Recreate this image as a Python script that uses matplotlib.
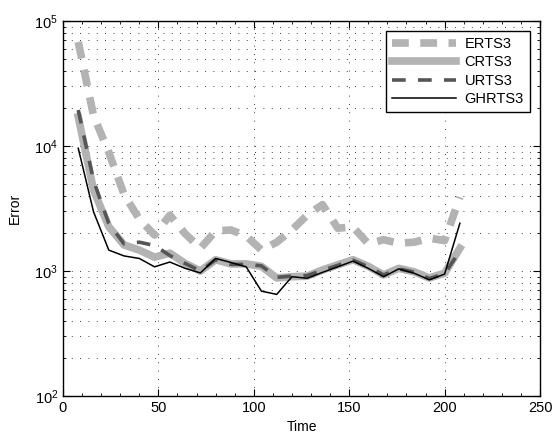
import matplotlib
matplotlib.use("Agg")
from matplotlib import pyplot as plt
from matplotlib.ticker import MultipleLocator, LogLocator
import numpy as np

plt.rcParams['font.family'] = ['Liberation Sans', 'DejaVu Sans']
plt.rcParams['mathtext.fontset'] = 'custom'
plt.rcParams['mathtext.rm'] = 'Liberation Sans'

# data
time = [8, 16, 24, 32, 40, 48, 56, 64, 72, 80, 88, 96, 104,
        112, 120, 128, 136, 144, 152, 160, 168, 176, 184, 192, 200, 208]

erts3 = [68000, 17500, 8900, 4100, 2600, 1940, 2800, 1990, 1520, 2090, 2130, 1910, 1470,
         1700, 2130, 2800, 3400, 2200, 2250, 1650, 1780, 1670, 1700, 1830, 1750, 3900]
crts3 = [17100, 4450, 2260, 1615, 1470, 1290, 1390, 1150, 1000, 1230, 1140, 1140, 1090,
         880, 900, 910, 1020, 1120, 1230, 1090, 930, 1050, 985, 880, 960, 1520]
urts3 = [19400, 5300, 2400, 1650, 1700, 1600, 1330, 1150, 1000, 1230, 1130, 1130, 1100,
         890, 910, 920, 1010, 1110, 1220, 1080, 930, 1040, 980, 870, 950, 1450]
ghrts3 = [9600, 2980, 1470, 1320, 1260, 1080, 1180, 1050, 965, 1260, 1170, 1080, 690,
          650, 900, 875, 975, 1080, 1200, 1050, 900, 1040, 960, 850, 945, 2410]

light = '#b3b3b3'
dark = '#555555'

fig = plt.figure(figsize=(5.55, 4.38), dpi=100)
ax = fig.add_axes([0.1135, 0.0959, 0.8595, 0.8561])

ax.semilogy(time, erts3, color=light, lw=5.5, linestyle=(0, (2.2, 1.5)), label='ERTS3')
ax.semilogy(time, crts3, color=light, lw=5.5, label='CRTS3')
ax.semilogy(time, urts3, color=dark, lw=2.6, linestyle=(0, (3.8, 3.4)), label='URTS3')
ax.semilogy(time, ghrts3, color='black', lw=1.1, label='GHRTS3')

ax.set_xlim(0, 250)
ax.set_ylim(1e2, 1e5)
ax.xaxis.set_major_locator(MultipleLocator(50))
ax.xaxis.set_minor_locator(MultipleLocator(10))
ax.yaxis.set_major_locator(LogLocator(base=10))
ax.yaxis.set_minor_locator(LogLocator(base=10, subs=np.arange(2, 10)))

ax.tick_params(which='both', direction='in', top=True, right=True, labelsize=10.5, colors='black')
ax.tick_params(which='major', length=5, width=0.8)
ax.tick_params(which='minor', length=2.5, width=0.6)

ax.grid(True, which='major', axis='x', color='black', lw=0.6, linestyle=(0, (1, 9)))
ax.grid(True, which='both', axis='y', color='black', lw=0.6, linestyle=(0, (1, 9)))

for s in ax.spines.values():
    s.set_linewidth(1.0)

ax.set_xlabel('Time', fontsize=10, labelpad=4)
ax.set_ylabel('Error', fontsize=10, labelpad=9)

leg = ax.legend(loc='upper right', fontsize=10.5, handlelength=4.4, labelspacing=0.3,
                borderaxespad=0.7, fancybox=False, framealpha=1, edgecolor='black',
                handletextpad=0.6, borderpad=0.4)
leg.get_frame().set_linewidth(1.0)

fig.savefig('out.png', dpi=100)
